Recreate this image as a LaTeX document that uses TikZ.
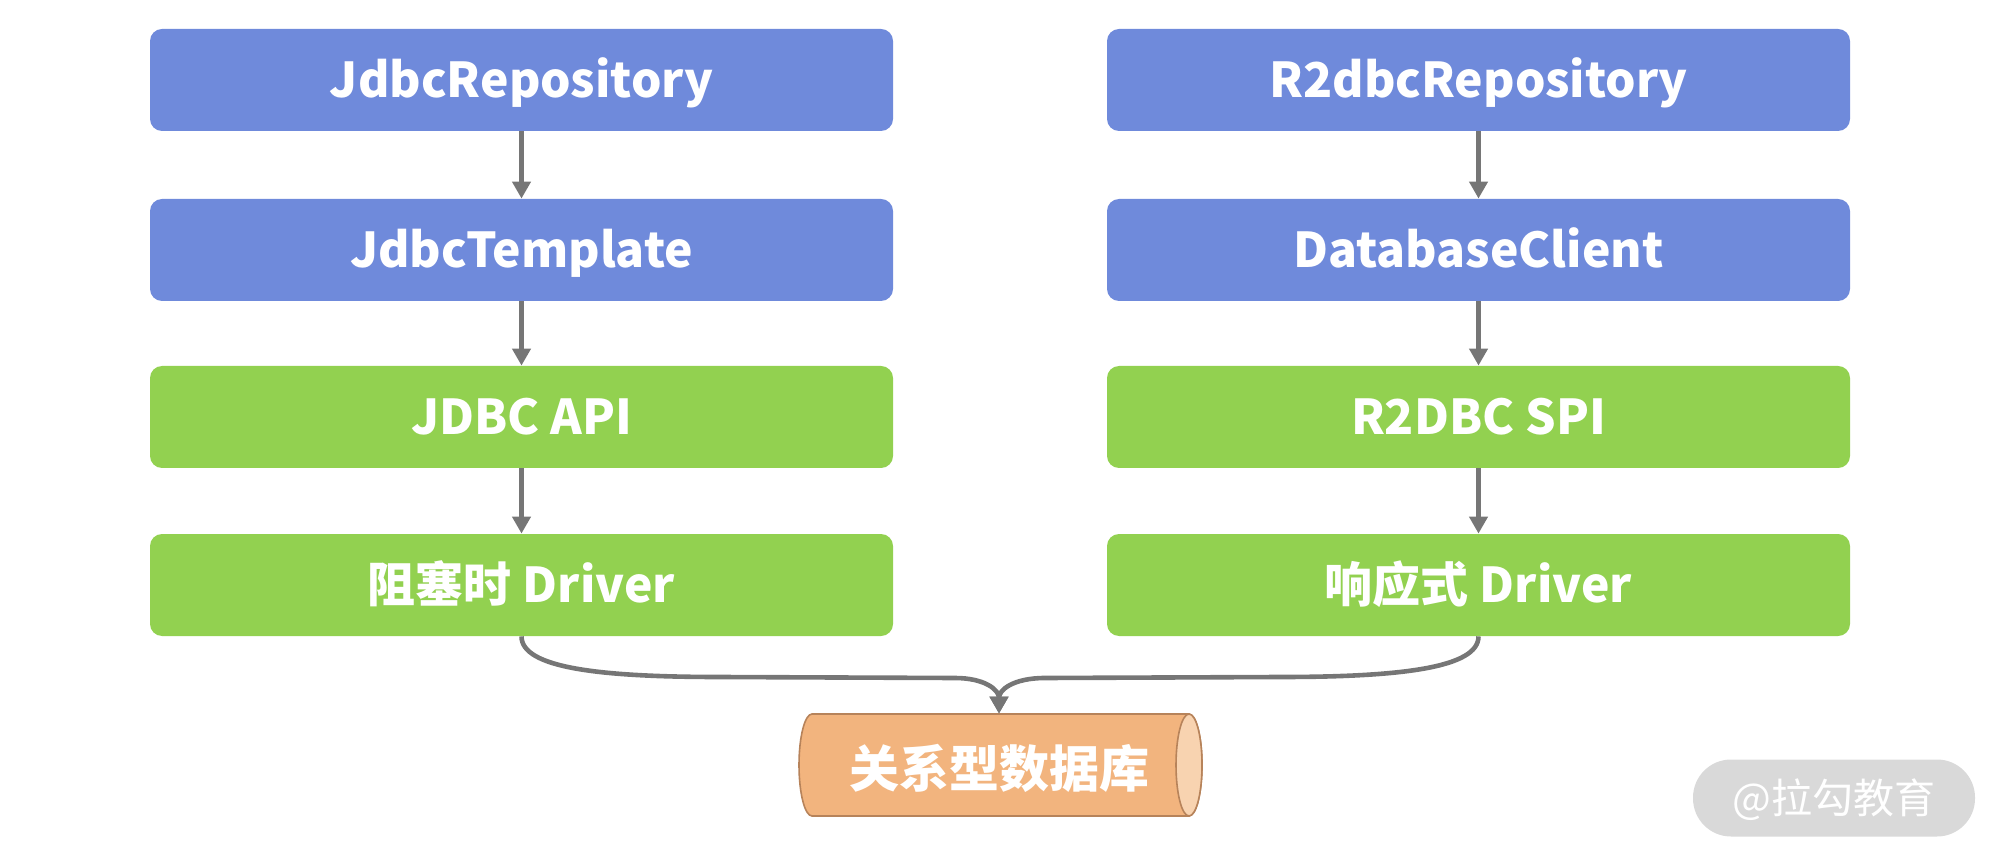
\documentclass[tikz,border=0pt]{standalone}
\usepackage{fontspec}
\setmainfont{Noto Sans CJK SC}
\usetikzlibrary{arrows.meta}
\definecolor{boxblue}{HTML}{6F8ADB}
\definecolor{boxgreen}{HTML}{92D150}
\definecolor{linegray}{HTML}{767676}
\definecolor{dbbody}{HTML}{F2B47E}
\definecolor{dbend}{HTML}{F8D3B0}
\definecolor{dbborder}{HTML}{B7835A}
\definecolor{wmgray}{HTML}{D9D9D9}
\begin{document}
\begin{tikzpicture}[x=0.5pt,y=-0.5pt,
  box/.style={rectangle, rounded corners=6pt, minimum width=371.5pt, minimum height=51pt,
    text=white, font=\bfseries\fontsize{24}{28}\selectfont, inner sep=0pt,
    text height=17.5pt, text depth=0pt},
  bluebox/.style={box, fill=boxblue},
  greenbox/.style={box, fill=boxgreen},
  conn/.style={draw=linegray, line width=2.3pt, -{Triangle[length=8.5pt,width=9pt]}},
  dbline/.style={draw=dbborder, line width=0.8pt},
  dbtext/.style={rectangle, minimum width=202pt, minimum height=51pt, inner sep=0pt,
    text=white, font=\bfseries\fontsize{25}{30}\selectfont,
    text height=22.9pt, text depth=0pt},
  wmstyle/.style={rectangle, rounded corners=19pt, minimum width=141pt, minimum height=38.5pt,
    fill=wmgray, text=white, font=\fontsize{20.5}{24}\selectfont, inner sep=0pt,
    text height=15.5pt, text depth=0pt}]
\useasboundingbox (0,0) rectangle (2000,865);
% database cylinder body and end face
\path[dbline, fill=dbbody] (1189,714) -- (812,714)
  arc[start angle=90, end angle=270, x radius=6.5pt, y radius=25.5pt]
  -- (1189,816)
  arc[start angle=270, end angle=450, x radius=6.5pt, y radius=25.5pt] -- cycle;
\path[dbline, fill=dbend] (1189,765) ellipse[x radius=6.5pt, y radius=25.5pt];
\node[bluebox] (L1) at (521.5,80) {JdbcRepository};
\node[bluebox] (L2) at (521.5,250) {JdbcTemplate};
\node[greenbox] (L3) at (521.5,417) {JDBC API};
\node[greenbox] (L4) at (521.5,585) {阻塞时 Driver};
\node[bluebox] (R1) at (1478.5,80) {R2dbcRepository};
\node[bluebox] (R2) at (1478.5,250) {DatabaseClient};
\node[greenbox] (R3) at (1478.5,417) {R2DBC SPI};
\node[greenbox] (R4) at (1478.5,585) {响应式 Driver};
\node[dbtext] (db) at (999,765) {关系型数据库};
\node[wmstyle] (wm) at (1834,798) {@拉勾教育};
\draw[conn] (L1) -- (L2);
\draw[conn] (L2) -- (L3);
\draw[conn] (L3) -- (L4);
\draw[conn] (R1) -- (R2);
\draw[conn] (R2) -- (R3);
\draw[conn] (R3) -- (R4);
\draw[conn] (L4.south) .. controls (521.5,668) and (600,677) .. (720,677) -- (955,678)
  .. controls (985,678) and (999,690) .. (db.north);
\draw[conn] (R4.south) .. controls (1478.5,668) and (1400,677) .. (1280,677) -- (1045,678)
  .. controls (1013,678) and (999,690) .. (db.north);
\end{tikzpicture}
\end{document}
